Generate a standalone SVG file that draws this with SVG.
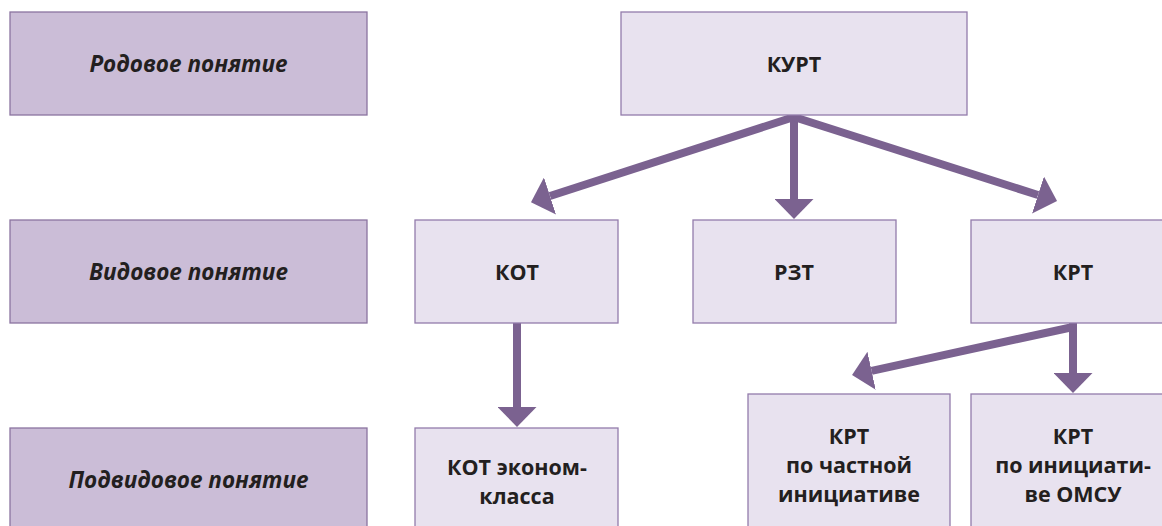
<svg xmlns="http://www.w3.org/2000/svg" width="1162" height="526" viewBox="0 0 1162 526">
<style>
.lbl{fill:#cbbdd7;stroke:#8b74a0;stroke-width:1.3}
.nd{fill:#e8e2ef;stroke:#937cab;stroke-width:1.3}
.lt{font-family:"Open Sans","DejaVu Sans",sans-serif;font-weight:bold;font-style:italic;font-size:22.5px;fill:#231f20;text-anchor:middle}
.nt{font-family:"Open Sans","DejaVu Sans",sans-serif;font-weight:bold;font-size:21.5px;fill:#231f20;text-anchor:middle}
.cn{stroke:#7b6290;stroke-width:8;fill:none;marker-end:url(#ah)}
</style>
<defs>
<marker id="ah" markerUnits="userSpaceOnUse" viewBox="0 0 20 39" refX="0" refY="19.5" markerWidth="20" markerHeight="39" orient="auto">
<path d="M0,0 L20,19.5 L0,39 Z" fill="#7b6290"/>
</marker>
</defs>
<g id="connectors">
<line class="cn" x1="794" y1="117" x2="550" y2="196"/>
<line class="cn" x1="794" y1="114" x2="794" y2="199"/>
<line class="cn" x1="794" y1="117" x2="1038" y2="195"/>
<line class="cn" x1="517" y1="322" x2="517" y2="407"/>
<line class="cn" x1="1073" y1="322" x2="1073" y2="373"/>
<line class="cn" x1="1073" y1="327" x2="871.6" y2="370.8"/>
</g>
<g id="label-rodovoe"><rect class="lbl" x="10" y="12" width="357" height="103"/><text class="lt" x="188.5" y="72">Родовое понятие</text></g>
<g id="label-vidovoe"><rect class="lbl" x="10" y="220" width="357" height="103"/><text class="lt" x="188.5" y="280">Видовое понятие</text></g>
<g id="label-podvidovoe"><rect class="lbl" x="10" y="428" width="357" height="110"/><text class="lt" x="188.5" y="488">Подвидовое понятие</text></g>
<g id="node-kurt"><rect class="nd" x="621" y="12" width="346" height="103"/><text class="nt" x="794" y="72">КУРТ</text></g>
<g id="node-kot"><rect class="nd" x="415" y="220" width="203" height="103"/><text class="nt" x="517" y="280">КОТ</text></g>
<g id="node-rzt"><rect class="nd" x="693" y="220" width="203" height="103"/><text class="nt" x="794" y="280">РЗТ</text></g>
<g id="node-krt"><rect class="nd" x="971" y="220" width="200" height="103"/><text class="nt" x="1073" y="280">КРТ</text></g>
<g id="node-kot-econom"><rect class="nd" x="415" y="428" width="203" height="110"/><text class="nt" x="517" y="475">КОТ эконом-</text><text class="nt" x="517" y="504">класса</text></g>
<g id="node-krt-private"><rect class="nd" x="748" y="394" width="202" height="144"/><text class="nt" x="849" y="444">КРТ</text><text class="nt" x="849" y="473">по частной</text><text class="nt" x="849" y="502">инициативе</text></g>
<g id="node-krt-omsu"><rect class="nd" x="971" y="394" width="200" height="144"/><text class="nt" x="1073" y="444">КРТ</text><text class="nt" x="1073" y="473">по инициати-</text><text class="nt" x="1073" y="502">ве ОМСУ</text></g>
</svg>
